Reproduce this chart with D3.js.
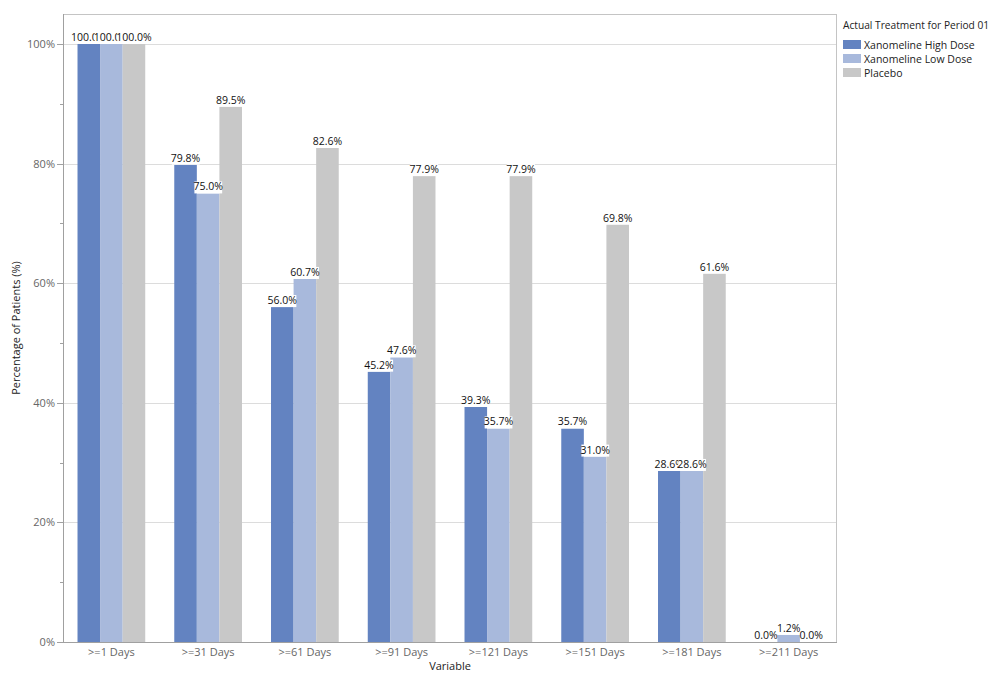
<!DOCTYPE html>
<html>
<head>
<meta charset="utf-8">
<script src="https://cdn.jsdelivr.net/npm/d3@7"></script>
<style>
  body { margin: 0; background: #fff; }
  svg { display: block; }
  text { font-family: "Open Sans", "Noto Sans", sans-serif; }
</style>
</head>
<body>
<svg id="chart" width="999" height="677"></svg>
<script>
const categories = [">=1 Days", ">=31 Days", ">=61 Days", ">=91 Days", ">=121 Days", ">=151 Days", ">=181 Days", ">=211 Days"];
const seriesNames = ["Xanomeline High Dose", "Xanomeline Low Dose", "Placebo"];
const highDose = [100.0, 79.8, 56.0, 45.2, 39.3, 35.7, 28.6, 0.0];
const lowDose = [100.0, 75.0, 60.7, 47.6, 35.7, 31.0, 28.6, 1.2];
const placebo = [100.0, 89.5, 82.6, 77.9, 77.9, 69.8, 61.6, 0.0];
const yTicks = [0, 20, 40, 60, 80, 100];
const yMinorTicks = [10, 30, 50, 70, 90];
const colors = ["#6383c1", "#a8b9dc", "#c8c8c8"];

const seriesValues = [highDose, lowDose, placebo];

const svg = d3.select("#chart");
const L = 63, R = 837, T = 14, B = 642;

const x = d3.scaleBand().domain(categories).range([L, R]).paddingInner(0.3).paddingOuter(0.15);
const xs = d3.scaleBand().domain(seriesNames).range([0, x.bandwidth()]);
const y = d3.scaleLinear().domain([0, 105]).range([B, T]);

// gridlines
svg.append("g").selectAll("line").data(yTicks.filter(d => d > 0)).join("line")
  .attr("x1", L).attr("x2", R)
  .attr("y1", d => Math.round(y(d)) + 0.5).attr("y2", d => Math.round(y(d)) + 0.5)
  .attr("stroke", "#dcdcdc").attr("stroke-width", 1);

// frame
svg.append("rect").attr("x", L + 0.5).attr("y", T + 0.5)
  .attr("width", R - L - 1).attr("height", B - T)
  .attr("fill", "none").attr("stroke", "#c4c4c4");

// bars
const groups = svg.append("g").selectAll("g").data(categories).join("g")
  .attr("transform", d => `translate(${x(d)},0)`);

seriesNames.forEach((s, si) => {
  groups.append("rect")
    .attr("x", xs(s))
    .attr("width", xs.bandwidth())
    .attr("y", (d, i) => y(seriesValues[si][i]))
    .attr("height", (d, i) => B - y(seriesValues[si][i]))
    .attr("fill", colors[si]);
});

// labels (series order, each with white background)
const labelLayer = svg.append("g");
seriesNames.forEach((s, si) => {
  categories.forEach((c, i) => {
    const v = seriesValues[si][i];
    const cx = x(c) + xs(s) + xs.bandwidth() / 2;
    const g = labelLayer.append("g");
    const bg = g.append("rect").attr("fill", "#fff");
    const t = g.append("text")
      .attr("x", cx).attr("y", y(v) - 3)
      .attr("text-anchor", "middle")
      .attr("font-size", 10.5).attr("fill", "#111")
      .text(v.toFixed(1) + "%");
    const bb = t.node().getBBox();
    bg.attr("x", bb.x + 1).attr("y", bb.y + 2).attr("width", bb.width - 2).attr("height", bb.height - 2);
  });
});

// axes lines
svg.append("line").attr("x1", L + 0.5).attr("x2", L + 0.5).attr("y1", T).attr("y2", B)
  .attr("stroke", "#a0a0a0");
svg.append("line").attr("x1", L).attr("x2", R).attr("y1", B + 0.5).attr("y2", B + 0.5)
  .attr("stroke", "#a0a0a0");

// y ticks
const yAxis = svg.append("g");
yAxis.selectAll("line.major").data(yTicks).join("line").attr("class", "major")
  .attr("x1", L - 6).attr("x2", L)
  .attr("y1", d => Math.round(y(d)) + 0.5).attr("y2", d => Math.round(y(d)) + 0.5)
  .attr("stroke", "#a0a0a0");
yAxis.selectAll("line.minor").data(yMinorTicks).join("line").attr("class", "minor")
  .attr("x1", L - 3).attr("x2", L)
  .attr("y1", d => Math.round(y(d)) + 0.5).attr("y2", d => Math.round(y(d)) + 0.5)
  .attr("stroke", "#a0a0a0");
yAxis.selectAll("text").data(yTicks).join("text")
  .attr("x", L - 8).attr("y", d => y(d) + 4)
  .attr("text-anchor", "end").attr("font-size", 11).attr("fill", "#666")
  .text(d => d + "%");

// x tick labels
svg.append("g").selectAll("text").data(categories).join("text")
  .attr("x", d => x(d) + x.bandwidth() / 2).attr("y", B + 14)
  .attr("text-anchor", "middle").attr("font-size", 11).attr("fill", "#666")
  .text(d => d);

// axis titles
svg.append("text").attr("x", (L + R) / 2).attr("y", 670)
  .attr("text-anchor", "middle").attr("font-size", 11).attr("fill", "#222")
  .text("Variable");
svg.append("text").attr("transform", `translate(20,${(T + B) / 2}) rotate(-90)`)
  .attr("text-anchor", "middle").attr("font-size", 11).attr("fill", "#222")
  .text("Percentage of Patients (%)");

// legend
const lg = svg.append("g").attr("transform", "translate(843,0)");
lg.append("text").attr("x", 0).attr("y", 29).attr("font-size", 10.2).attr("fill", "#222")
  .text("Actual Treatment for Period 01");
seriesNames.forEach((s, i) => {
  lg.append("rect").attr("x", 0).attr("y", 40 + i * 14).attr("width", 18).attr("height", 9)
    .attr("fill", colors[i]);
  lg.append("text").attr("x", 21).attr("y", 49 + i * 14).attr("font-size", 10.5).attr("fill", "#222")
    .text(s);
});
</script>
</body>
</html>
